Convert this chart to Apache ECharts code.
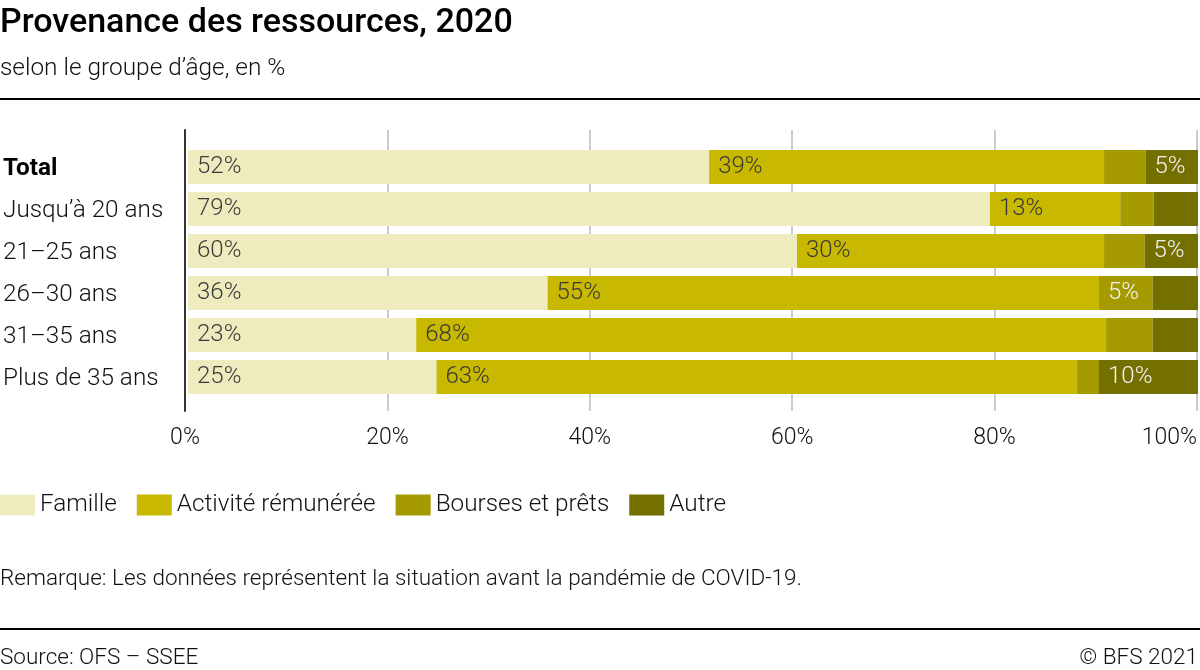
<!DOCTYPE html>
<html>
<head>
<meta charset="utf-8">
<script src="https://cdn.jsdelivr.net/npm/echarts@6/dist/echarts.min.js"></script>
<style>
html,body{margin:0;padding:0;background:#fff;}
#chart{width:1200px;height:670px;}
</style>
</head>
<body>
<div id="chart"></div>
<script>
const categories = ["Total", "Jusqu’à 20 ans", "21–25 ans", "26–30 ans", "31–35 ans", "Plus de 35 ans"];
const seriesNames = ["Famille", "Activité rémunérée", "Bourses et prêts", "Autre"];
const famille = [51.6, 79.4, 60.3, 35.6, 22.6, 24.6];
const activite = [39.1, 12.9, 30.4, 54.6, 68.3, 63.4];
const bourses = [4.1, 3.3, 4.0, 5.3, 4.6, 2.2];
const autre = [5.2, 4.4, 5.3, 4.5, 4.5, 9.8];
const xTicks = [0, 20, 40, 60, 80, 100];

const colors = ["#eeebbf", "#c8b800", "#a59a00", "#737000"];
const labelColors = ["#3a3a3a", "#3a3a3a", "#f2f2f2", "#f2f2f2"];
const FONT = "Roboto";

const chart = echarts.init(document.getElementById('chart'));
const allData = [famille, activite, bourses, autre];

const series = allData.map((d, i) => ({
  name: seriesNames[i],
  type: 'bar',
  stack: 'total',
  xAxisIndex: 0,
  yAxisIndex: 0,
  barWidth: 34,
  data: d,
  itemStyle: { color: colors[i] },
  label: {
    show: true,
    position: 'insideLeft',
    distance: 9,
    fontFamily: FONT,
    fontWeight: 300,
    fontSize: 24,
    padding: [2, 0, 0, 0],
    color: labelColors[i],
    formatter: p => (p.value >= 5 ? Math.round(p.value) + '%' : '')
  },
  emphasis: { disabled: true },
  animation: false
}));

const txt = (size, weight) => ({ fontFamily: FONT, fontSize: size, fontWeight: weight, color: '#111' });

chart.setOption({
  animation: false,
  textStyle: { fontFamily: FONT },
  title: [
    { text: 'Provenance des ressources, 2020', left: 0, top: 6, padding: 0,
      textStyle: { fontFamily: FONT, fontSize: 34, fontWeight: 500, color: '#000' } },
    { text: 'selon le groupe d’âge, en %', left: 0, top: 57, padding: 0, textStyle: txt(24.4, 300) },
    { text: 'Remarque: Les données représentent la situation avant la pandémie de COVID-19.', left: 0, top: 568, padding: 0,
      textStyle: txt(22.5, 300) },
    { text: 'Source: OFS – SSEE', left: 0, top: 647, padding: 0, textStyle: txt(22.5, 300) },
    { text: '© BFS 2021', right: 2, top: 647, padding: 0, textStyle: txt(22.5, 300) }
  ],
  graphic: [
    { type: 'rect', shape: { x: 0, y: 98, width: 1200, height: 2 }, style: { fill: '#000' } },
    { type: 'rect', shape: { x: 0, y: 628, width: 1200, height: 2 }, style: { fill: '#000' } }
  ],
  legend: {
    data: seriesNames,
    left: 0,
    top: 493,
    icon: 'rect',
    itemWidth: 35,
    itemHeight: 21,
    itemGap: 20,
    padding: 0,
    selectedMode: false,
    textStyle: txt(24.3, 300)
  },
  grid: [
    { left: 185, right: 2, top: 146, height: 252, containLabel: false },
    { left: 185, right: 2, top: 130, height: 281, containLabel: false }
  ],
  xAxis: [
    { type: 'value', gridIndex: 0, min: 0, max: 100, show: false },
    { type: 'value', gridIndex: 1, min: xTicks[0], max: xTicks[xTicks.length - 1], interval: 20,
      axisLine: { show: false }, axisTick: { show: false },
      splitLine: { show: true, lineStyle: { color: '#cccccc', width: 2 } },
      axisLabel: { margin: 16, fontFamily: FONT, fontSize: 23, fontWeight: 300, color: '#111',
        formatter: '{value}%', alignMaxLabel: 'right' } }
  ],
  yAxis: [
    { type: 'category', gridIndex: 0, data: categories, inverse: true,
      axisLine: { show: false }, axisTick: { show: false }, splitLine: { show: false },
      axisLabel: { align: 'left', margin: 185, fontFamily: FONT, fontSize: 24.3, fontWeight: 300, color: '#111',
        padding: [4, 0, 0, 0],
        formatter: v => (v === 'Total' ? '{b|' + v + '}' : v),
        rich: { b: { fontFamily: FONT, fontSize: 24.3, fontWeight: 'bold', color: '#000' } } } },
    { type: 'value', gridIndex: 1, min: 0, max: 1,
      axisLine: { show: true, lineStyle: { color: '#333', width: 2 } },
      axisTick: { show: false }, axisLabel: { show: false }, splitLine: { show: false } }
  ],
  series: series
});
</script>
</body>
</html>
